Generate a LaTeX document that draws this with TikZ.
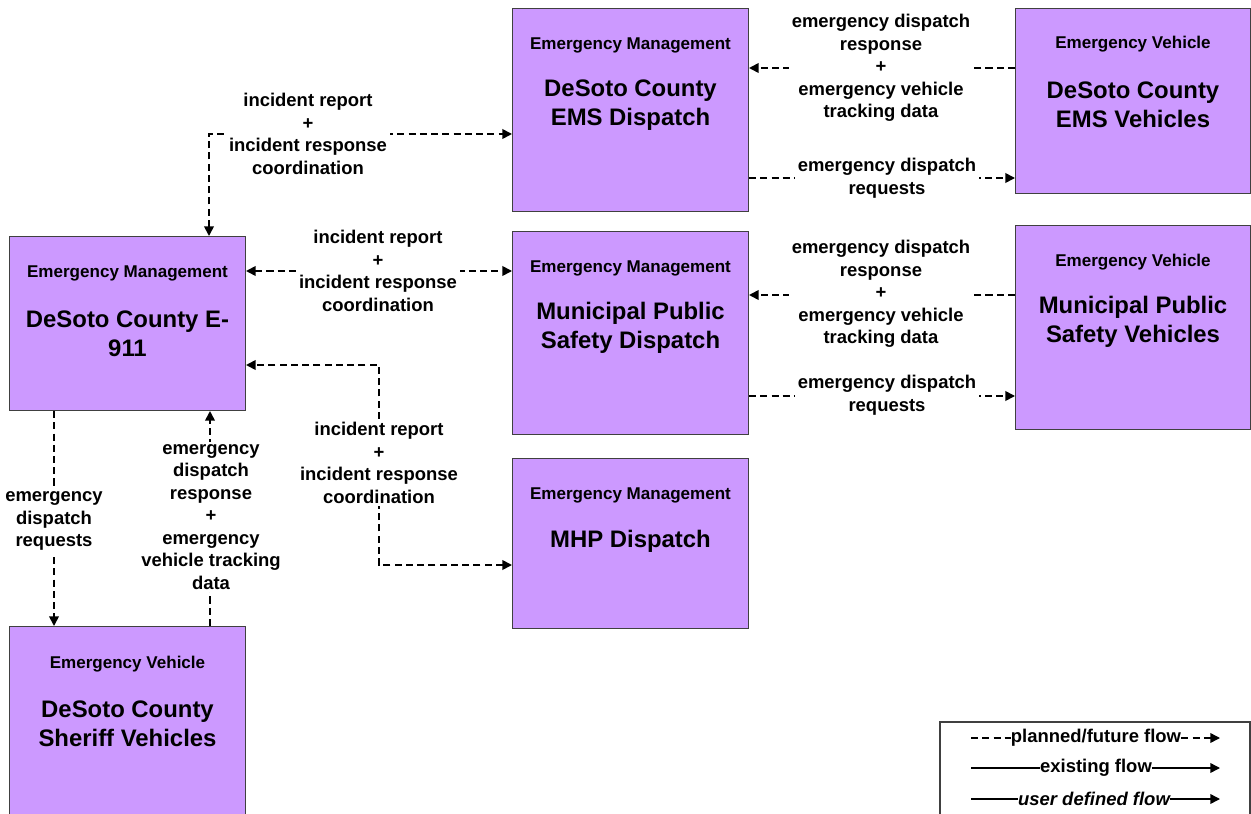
\documentclass[tikz,border=0pt]{standalone}
\usepackage{fontspec}
\setmainfont{Liberation Sans}
\usetikzlibrary{calc, positioning}
\usetikzlibrary{arrows.meta}

\definecolor{boxpurple}{RGB}{204,153,255}
\definecolor{boxedge}{RGB}{64,64,64}

\tikzset{
	sysbox/.style={draw=boxedge, line width=0.6pt, fill=boxpurple, anchor=north west,
		minimum width=4.72cm, inner sep=0pt},
	sysclass/.style={font=\fontsize{9.7}{11.6}\selectfont\bfseries},
	sysname/.style={font=\fontsize{13.6}{16.4}\selectfont\bfseries, align=center},
	planned/.style={line width=1pt, dash pattern=on 4pt off 2.4pt},
	flowlabel/.style={fill=white, align=center, inner sep=1.5pt,
		font=\fontsize{10.5}{12.8}\selectfont\bfseries},
	legtext/.style={inner sep=0pt, font=\fontsize{10.5}{12.8}\selectfont\bfseries},
}

\begin{document}
\begin{tikzpicture}[x=0.02cm, y=-0.02cm, >={Triangle[length=5.5pt,width=5.5pt]}]
	\useasboundingbox (0,0) rectangle (1251,814);
	
	% centers
	\node[sysbox, minimum height=3.48cm] (e911) at (9,236) {};
	\node[sysclass] at ($(e911.north)+(0,37)$) {Emergency Management};
	\node[sysname] at ($(e911.north)+(0,98)$) {DeSoto County E-\\911};
	
	\node[sysbox, minimum height=4.06cm] (emsdisp) at (512,8) {};
	\node[sysclass] at ($(emsdisp.north)+(0,37)$) {Emergency Management};
	\node[sysname] at ($(emsdisp.north)+(0,97)$) {DeSoto County\\EMS Dispatch};
	
	\node[sysbox, minimum height=4.06cm] (munidisp) at (512,231) {};
	\node[sysclass] at ($(munidisp.north)+(0,37)$) {Emergency Management};
	\node[sysname] at ($(munidisp.north)+(0,97)$) {Municipal Public\\Safety Dispatch};
	
	\node[sysbox, minimum height=3.40cm] (mhp) at (512,458) {};
	\node[sysclass] at ($(mhp.north)+(0,37)$) {Emergency Management};
	\node[sysname] at ($(mhp.north)+(0,83)$) {MHP Dispatch};
	
	% vehicles
	\node[sysbox, minimum height=3.70cm, minimum width=4.70cm] (emsveh) at (1015,8) {};
	\node[sysclass] at ($(emsveh.north)+(0,36)$) {Emergency Vehicle};
	\node[sysname] at ($(emsveh.north)+(0,97)$) {DeSoto County\\EMS Vehicles};
	
	\node[sysbox, minimum height=4.08cm, minimum width=4.70cm] (muniveh) at (1015,225) {};
	\node[sysclass] at ($(muniveh.north)+(0,37)$) {Emergency Vehicle};
	\node[sysname] at ($(muniveh.north)+(0,97)$) {Municipal Public\\Safety Vehicles};
	
	\node[sysbox, minimum height=3.90cm] (sheriff) at (9,626) {};
	\node[sysclass] at ($(sheriff.north)+(0,38)$) {Emergency Vehicle};
	\node[sysname] at ($(sheriff.north)+(0,98)$) {DeSoto County\\Sheriff Vehicles};
	
	% flows
	\coordinate (rpt1) at (209,134);
	\coordinate (rpt2) at (0,271);
	\coordinate (rpt3a) at (379,365);
	\coordinate (rpt3b) at (379,565);
	\coordinate (req1) at (54,0);
	\coordinate (resp1) at (210,0);
	\coordinate (resp2) at (0,68);
	\coordinate (req2) at (0,178);
	\coordinate (resp3) at (0,295);
	\coordinate (req3) at (0,396);
	
	\draw[planned,<->] (e911.north -| rpt1) |- (emsdisp.west |- rpt1);
	\draw[planned,<->] (e911.east |- rpt2) -- (munidisp.west |- rpt2);
	\draw[planned,<->] (mhp.west |- rpt3b) -| (rpt3a) -- (e911.east |- rpt3a);
	\draw[planned,->] (e911.south -| req1) -- (sheriff.north -| req1);
	\draw[planned,->] (sheriff.north -| resp1) -- (e911.south -| resp1);
	\draw[planned,->] (emsveh.west |- resp2) -- (emsdisp.east |- resp2);
	\draw[planned,->] (emsdisp.east |- req2) -- (emsveh.west |- req2);
	\draw[planned,->] (muniveh.west |- resp3) -- (munidisp.east |- resp3);
	\draw[planned,->] (munidisp.east |- req3) -- (muniveh.west |- req3);
	
	\node[flowlabel] (rpt1-lbl) at (308,134) {incident report\\+\\incident response\\coordination};
	\node[flowlabel] (rpt2-lbl) at (378,271) {incident report\\+\\incident response\\coordination};
	\node[flowlabel] (rpt3-lbl) at (379,463) {incident report\\+\\incident response\\coordination};
	\node[flowlabel] (req1-lbl) at (54,521) {emergency\\dispatch\\requests};
	\node[flowlabel] (resp1-lbl) at (211,517) {emergency\\dispatch\\response\\+\\emergency\\vehicle tracking\\data};
	\node[flowlabel] (resp2-lbl) at (881,68) {emergency dispatch\\response\\+\\emergency vehicle\\tracking data};
	\node[flowlabel] (req2-lbl) at (887,178) {emergency dispatch\\requests};
	\node[flowlabel] (resp3-lbl) at (881,294) {emergency dispatch\\response\\+\\emergency vehicle\\tracking data};
	\node[flowlabel] (req3-lbl) at (887,395) {emergency dispatch\\requests};
	
	% legend
	\draw[boxedge, line width=0.6pt] (940,722) rectangle (1250,830);
	\node[legtext] (leg-plan) at (1096,738) {planned/future flow};
	\node[legtext] (leg-exist) at (1096,768) {existing flow};
	\node[legtext] (leg-user) at (1094,799) {\itshape user defined flow};
	\coordinate (leg-l) at (971,0);
	\coordinate (leg-r) at (1220,0);
	\draw[planned, line width=0.8pt] (leg-plan.west -| leg-l) -- (leg-plan.west);
	\draw[planned, line width=0.8pt, ->] (leg-plan.east) -- (leg-plan.east -| leg-r);
	\draw[line width=0.8pt] (leg-exist.west -| leg-l) -- (leg-exist.west);
	\draw[line width=0.8pt, ->] (leg-exist.east) -- (leg-exist.east -| leg-r);
	\draw[line width=0.8pt] (leg-user.west -| leg-l) -- (leg-user.west);
	\draw[line width=0.8pt, ->] (leg-user.east) -- (leg-user.east -| leg-r);
\end{tikzpicture}
\end{document}
